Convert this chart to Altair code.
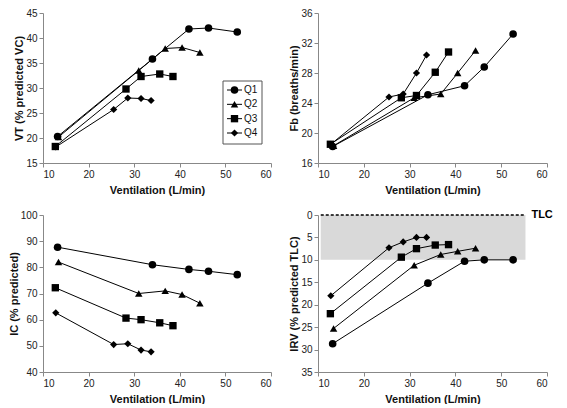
import altair as alt
import pandas as pd

FONT = "Liberation Sans"

series = ["Q1", "Q2", "Q3", "Q4"]

# Ventilation (L/min) per quartile
vent_q1 = [13.2, 34.0, 42.0, 46.3, 52.6]
vent_q2 = [13.4, 31.0, 36.8, 40.5, 44.4]
vent_q3 = [12.7, 28.2, 31.5, 35.6, 38.5]
vent_q4 = [12.8, 25.5, 28.6, 31.5, 33.7]

# VT (% predicted VC)
vt_q1 = [20.3, 35.8, 41.8, 42.0, 41.2]
vt_q2 = [20.2, 33.5, 37.9, 38.1, 37.1]
vt_q3 = [18.3, 29.8, 32.3, 32.8, 32.3]
vt_q4 = [18.2, 25.7, 28.0, 27.9, 27.5]

# Fb (breaths/min)
fb_q1 = [18.2, 25.1, 26.3, 28.8, 33.2]
fb_q2 = [18.3, 24.7, 25.2, 28.0, 31.0]
fb_q3 = [18.5, 24.7, 25.0, 28.1, 30.8]
fb_q4 = [18.5, 24.8, 25.2, 28.0, 30.4]

# IC (% predicted)
ic_q1 = [87.7, 81.0, 79.2, 78.5, 77.2]
ic_q2 = [82.0, 70.0, 71.0, 69.6, 66.3]
ic_q3 = [72.2, 60.6, 60.0, 58.8, 57.7]
ic_q4 = [62.6, 50.5, 50.8, 48.4, 47.7]

# IRV (% predicted TLC)
irv_q1 = [28.7, 15.2, 10.3, 10.0, 10.0]
irv_q2 = [25.3, 11.2, 8.8, 8.1, 7.4]
irv_q3 = [22.0, 9.4, 7.5, 6.7, 6.6]
irv_q4 = [18.0, 7.3, 6.0, 5.0, 5.0]

# shaded zone / TLC line in IRV panel
zone_x = [10.6, 55.3]
zone_y = [0, 10]
tlc_x = 56.6
tlc_label = "TLC"

x_ticks = [10, 20, 30, 40, 50, 60]

vents = [vent_q1, vent_q2, vent_q3, vent_q4]
vts = [vt_q1, vt_q2, vt_q3, vt_q4]
fbs = [fb_q1, fb_q2, fb_q3, fb_q4]
ics = [ic_q1, ic_q2, ic_q3, ic_q4]
irvs = [irv_q1, irv_q2, irv_q3, irv_q4]

rows = []
for i, s in enumerate(series):
    for j in range(len(vents[i])):
        rows.append({"series": s, "vent": vents[i][j], "vt": vts[i][j],
                     "fb": fbs[i][j], "ic": ics[i][j], "irv": irvs[i][j]})
df = pd.DataFrame(rows)

shape_scale = alt.Scale(domain=series, range=["circle", "triangle-up", "square", "diamond"])
size_scale = alt.Scale(domain=series, range=[58, 52, 58, 36])

W_L, W_R, H_TOP, H_BOT = 228, 229, 150, 157
XTITLE = "Ventilation (L/min)"


def xenc(field):
    return alt.X(f"{field}:Q", title=XTITLE,
                 scale=alt.Scale(domain=[10, 60], nice=False, zero=False),
                 axis=alt.Axis(values=x_ticks))


def yenc(field, title, domain, ticks, reverse=False):
    return alt.Y(f"{field}:Q", title=title,
                 scale=alt.Scale(domain=domain, nice=False, zero=False, reverse=reverse),
                 axis=alt.Axis(values=ticks))


def series_layers(field, title, domain, ticks, reverse=False):
    base = alt.Chart(df)
    line = base.mark_line(color="black", strokeWidth=1).encode(
        x=xenc("vent"), y=yenc(field, title, domain, ticks, reverse),
        detail="series:N", order="vent:Q")
    pts = base.mark_point(filled=True, color="black", opacity=1).encode(
        x=xenc("vent"), y=yenc(field, title, domain, ticks, reverse),
        shape=alt.Shape("series:N", scale=shape_scale, legend=None),
        size=alt.Size("series:O", scale=size_scale, legend=None))
    return line, pts


# --- Panel A: VT with legend ---
lineA, ptsA = series_layers("vt", "VT (% predicted VC)", [15, 45], list(range(15, 46, 5)))
mainA = alt.layer(lineA, ptsA)

legend_df = pd.DataFrame({"series": series})
box_df = pd.DataFrame({"box": [0]})
leg_y = alt.Y("series:N", axis=None,
              scale=alt.Scale(type="point", domain=series, range=[77, 120], padding=0))
leg_box = alt.Chart(box_df).mark_rect(fill="white", stroke="#555", strokeWidth=1).encode(
    x=alt.value(180), x2=alt.value(219), y=alt.value(68), y2=alt.value(131))
leg_rule = alt.Chart(legend_df).mark_rule(color="black", strokeWidth=1).encode(
    x=alt.value(184), x2=alt.value(199), y=leg_y)
leg_pts = alt.Chart(legend_df).mark_point(filled=True, color="black", opacity=1).encode(
    x=alt.value(191.5), y=leg_y,
    shape=alt.Shape("series:N", scale=shape_scale, legend=None),
    size=alt.Size("series:O", scale=size_scale, legend=None))
leg_text = alt.Chart(legend_df).mark_text(align="left", baseline="middle", fontSize=10,
                                          font=FONT, color="#111").encode(
    x=alt.value(201), y=leg_y, text="series:N")
legA = alt.layer(leg_box, leg_rule, leg_pts, leg_text)
panelA = alt.layer(mainA, legA).resolve_scale(y="independent").properties(width=W_L, height=H_TOP)

# --- Panel B: Fb ---
lineB, ptsB = series_layers("fb", "Fb (breaths/min)", [16, 36], list(range(16, 37, 4)))
panelB = alt.layer(lineB, ptsB).properties(width=W_R, height=H_TOP)

# --- Panel C: IC ---
lineC, ptsC = series_layers("ic", "IC (% predicted)", [40, 100], list(range(40, 101, 10)))
panelC = alt.layer(lineC, ptsC).properties(width=W_L, height=H_BOT)

# --- Panel D: IRV ---
irv_title = "IRV (% predicted TLC)"
irv_dom = [0, 35]
irv_ticks = list(range(0, 36, 5))
lineD, ptsD = series_layers("irv", irv_title, irv_dom, irv_ticks, reverse=True)
zone_df = pd.DataFrame({"x0": [zone_x[0]], "x1": [zone_x[1]],
                        "y0": [zone_y[0]], "y1": [zone_y[1]],
                        "tx": [tlc_x], "label": [tlc_label]})
zone = alt.Chart(zone_df).mark_rect(color="#d9d9d9").encode(
    x=xenc("x0"), x2="x1:Q", y=yenc("y0", irv_title, irv_dom, irv_ticks, True), y2="y1:Q")
tlc_line = alt.Chart(zone_df).mark_rule(color="black", strokeWidth=1.5, strokeDash=[3, 2]).encode(
    x=xenc("x0"), x2="x1:Q", y=yenc("y0", irv_title, irv_dom, irv_ticks, True))
tlc_text = alt.Chart(zone_df).mark_text(align="left", baseline="middle", fontSize=11,
                                        fontWeight="bold", font=FONT, color="black").encode(
    x=xenc("tx"), y=yenc("y0", irv_title, irv_dom, irv_ticks, True), text="label:N")
panelD = alt.layer(zone, tlc_line, lineD, ptsD, tlc_text).properties(width=W_R, height=H_BOT)

top = alt.hconcat(panelA, panelB, spacing=16)
bottom = alt.hconcat(panelC, panelD, spacing=16)
chart = alt.vconcat(top, bottom, spacing=14).properties(
    padding={"left": 0, "top": 0, "right": 0, "bottom": 0}
).configure_view(stroke=None).configure_axis(
    grid=False,
    labelFont=FONT, labelFontSize=10, labelColor="#222", labelPadding=2,
    titleFont=FONT, titleFontSize=11, titleFontWeight="bold", titleColor="#111",
    domainColor="#888", tickColor="#888", tickSize=4,
).configure_axisX(titlePadding=5).configure_axisY(titlePadding=1)

chart.save("out.html", embed_options={"renderer": "svg", "actions": False})
